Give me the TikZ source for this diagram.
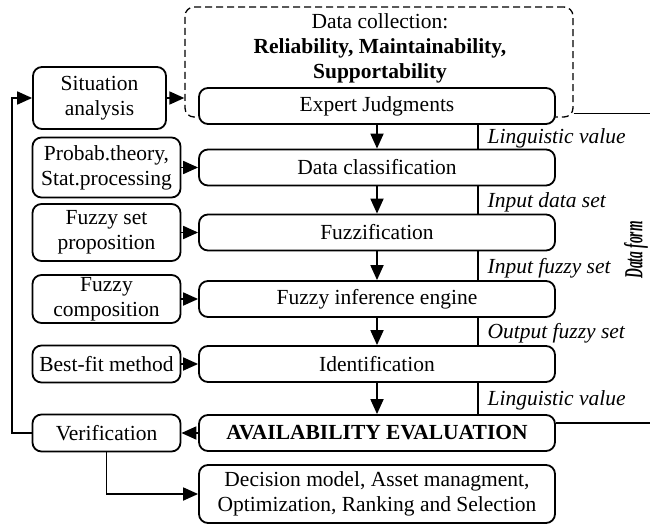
\documentclass[tikz,border=0pt]{standalone}
\usepackage{fontspec}
\setmainfont{Liberation Serif}
\usetikzlibrary{arrows.meta,positioning,calc}

\begin{document}
\begin{tikzpicture}[x=1pt,y=-1pt,node distance=65pt,on grid,
  font=\fontsize{21.5}{25}\selectfont,
  box/.style={draw,rounded corners=9pt,line width=1.8pt,fill=white,align=center,inner sep=2pt},
  main/.style={box,minimum width=356pt,minimum height=36pt},
  side/.style={box,minimum width=148pt},
  flow/.style={-{Triangle[length=15pt,width=13pt]},line width=1.8pt},
  rail/.style={line width=1.2pt},
  tag/.style={font=\fontsize{21.5}{25}\selectfont\itshape,right,inner sep=0pt,xshift=9pt,yshift=-2pt}]
   \useasboundingbox (0,0) rectangle (650,524);
   % data collection frame
   \node[draw,dash pattern=on 7pt off 4pt,line width=1.3pt,rounded corners=9pt,
         minimum width=388pt,minimum height=110pt] (collect) at (379,62) {};
   \node[align=center,anchor=north,inner sep=0pt] (colltext) at ($(collect.north)+(1,7)$)
        {Data collection:\\ \textbf{Reliability, Maintainability,}\\ \textbf{Supportability}};

   % main column
   \node[main] (expert) at (377,106) {Expert Judgments};
   \node[main] (datacl) [below=61.5pt of expert] {Data classification};
   \node[main] (fuzzif) [below=of datacl] {Fuzzification};
   \node[main] (infer) [below=66.5pt of fuzzif] {Fuzzy inference engine};
   \node[main] (ident) [below=of infer] {Identification};
   \node[main] (avail) [below=69pt of ident] {\textbf{AVAILABILITY EVALUATION}};
   \node[main,minimum height=58pt] (decis) [below=61pt of avail]
        {Decision model, Asset managment,\\ Optimization, Ranking and Selection};

   % side column
   \node[side,minimum width=133pt,minimum height=62pt] (situ) at (99.5,98) {Situation\\ analysis};
   \node[side,minimum height=60pt] (probab) [left=270.5pt of datacl] {Probab.theory,\\ Stat.processing};
   \node[side,minimum height=57pt] (fset) [left=270.5pt of fuzzif] {Fuzzy set\\ proposition};
   \node[side,minimum height=48pt] (fcomp) [left=270.5pt of infer] {Fuzzy\\ composition};
   \node[side,minimum height=37pt] (bestfit) [left=270.5pt of ident] {Best-fit method};
   \node[side,minimum height=37pt] (verif) [left=270.5pt of avail] {Verification};

   \coordinate (vline) at (478,0);
   \coordinate (back) at (12,0);

   \path[flow]
    (expert) edge (datacl)
    (datacl) edge (fuzzif)
    (fuzzif) edge (infer)
    (infer) edge (ident)
    (ident) edge (avail)
    (probab) edge (datacl)
    (fset) edge (fuzzif)
    (fcomp) edge (infer)
    (bestfit) edge (ident)
    (avail) edge (verif);
   \draw[flow] (situ.east) -- (situ.east -| collect.west);
   \draw[flow] (verif.west) -- (verif.west -| back) |- (situ.west);
   \draw[flow] (verif.south) |- (decis.west);

   % data form rail
   \foreach \a/\b/\t in {expert/datacl/Linguistic value, datacl/fuzzif/Input data set,
                         fuzzif/infer/Input fuzzy set, infer/ident/Output fuzzy set,
                         ident/avail/Linguistic value}
     \draw[rail] (\a.south -| vline) -- (\b.north -| vline) node[tag,midway] {\t};
   \draw[rail] ([yshift=4pt]collect.south east) -- ++(90,0);
   \draw[rail] ([yshift=10pt]avail.east) -- ++(110,0);
   \node[rotate=90,inner sep=0pt,font=\fontsize{26}{28}\selectfont] (dform) at (636,250)
        {\scalebox{0.52}[1]{\textbf{\textit{Data form}}}};
\end{tikzpicture}
\end{document}
